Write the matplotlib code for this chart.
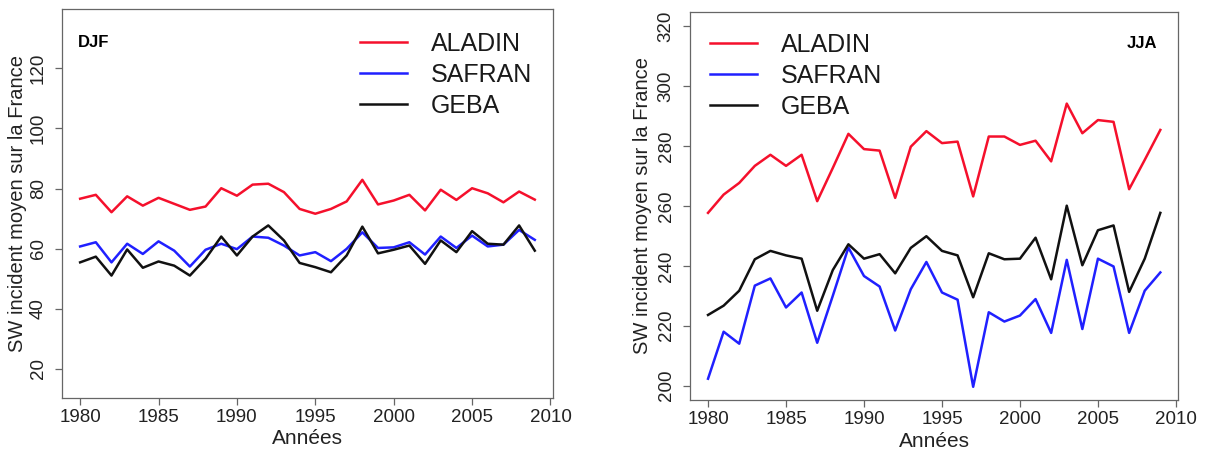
import matplotlib
matplotlib.use("Agg")
import matplotlib.pyplot as plt

plt.rcParams['font.family'] = ['Liberation Sans', 'DejaVu Sans']

years = list(range(1980, 2010))

# DJF (hiver)
djf_aladin = [76.6, 77.9, 72.1, 77.4, 74.3, 76.9, 74.9, 72.9, 74.0, 80.1,
              77.6, 81.3, 81.6, 78.8, 73.2, 71.6, 73.2, 75.7, 82.9, 74.7,
              76.0, 77.9, 72.7, 79.6, 76.2, 80.1, 78.4, 75.4, 79.0, 76.3]
djf_safran = [60.7, 62.1, 55.4, 61.6, 58.2, 62.4, 59.3, 54.0, 59.6, 61.6,
              59.8, 64.0, 63.6, 61.0, 57.7, 58.8, 55.8, 59.9, 65.4, 60.2,
              60.4, 62.1, 58.0, 64.0, 60.2, 64.3, 60.7, 61.3, 66.2, 62.9]
djf_geba = [55.4, 57.3, 51.0, 59.7, 53.6, 55.7, 54.3, 51.0, 56.6, 64.0,
            57.7, 64.0, 67.7, 62.7, 55.2, 53.8, 52.1, 57.7, 67.3, 58.4,
            59.6, 61.0, 54.9, 62.7, 58.8, 65.8, 61.6, 61.3, 67.7, 59.3]

# JJA (ete)
jja_aladin = [257.7, 263.8, 267.7, 273.4, 277.1, 273.4, 277.1, 261.6, 272.7, 284.1,
              279.0, 278.5, 262.7, 279.8, 285.0, 281.0, 281.5, 263.2, 283.2, 283.2,
              280.4, 281.8, 274.9, 294.2, 284.3, 288.7, 288.1, 265.6, 275.4, 285.4]
jja_safran = [202.3, 218.0, 214.0, 233.4, 235.8, 226.1, 231.1, 214.3, 230.0, 246.1,
              236.6, 233.1, 218.4, 232.2, 241.3, 231.1, 228.7, 199.6, 224.5, 221.4,
              223.4, 228.9, 217.6, 242.0, 218.9, 242.4, 239.8, 217.6, 231.7, 237.8]
jja_geba = [223.6, 226.7, 231.7, 242.2, 245.0, 243.5, 242.4, 225.0, 238.6, 247.2,
            242.4, 243.9, 237.5, 246.0, 249.9, 245.0, 243.5, 229.5, 244.2, 242.2,
            242.4, 249.4, 235.5, 260.1, 240.2, 251.9, 253.5, 231.3, 242.4, 257.7]

noms = ['ALADIN', 'SAFRAN', 'GEBA']
couleurs = ['#f5102c', '#2020ff', '#111111']

fig = plt.figure(figsize=(12.1, 4.54), dpi=100)
ax1 = fig.add_axes([0.0512, 0.1233, 0.4058, 0.8568])
ax2 = fig.add_axes([0.5702, 0.1190, 0.4037, 0.8546])


def style_axe(ax, ylim, yticks, leg_xy, ylab_x, xlab_y):
    ax.set_xlim(1978.84, 2010.16)
    ax.set_ylim(*ylim)
    ax.set_xticks(range(1980, 2011, 5))
    ax.set_yticks(yticks)
    for s in ax.spines.values():
        s.set_color('#666666')
        s.set_linewidth(0.9)
    ax.tick_params(length=5, width=0.9, color='#666666', labelsize=13.5,
                   labelcolor='#222222')
    ax.tick_params(axis='x', pad=3)
    ax.tick_params(axis='y', pad=6, labelrotation=90)
    for lab in ax.get_yticklabels():
        lab.set_va('center')
    ax.set_xlabel('Années', fontsize=15, color='#222222')
    ax.set_ylabel('SW incident moyen sur la France', fontsize=14.5, color='#222222')
    ax.yaxis.set_label_coords(ylab_x, 0.5)
    ax.xaxis.set_label_coords(0.5, xlab_y)
    ax.xaxis.label.set_va('center')
    ax.yaxis.label.set_va('center')
    leg = ax.legend(loc='upper left', bbox_to_anchor=leg_xy, frameon=False,
                    fontsize=18, handlelength=1.9, handletextpad=0.95,
                    labelspacing=0.28, borderpad=0, borderaxespad=0)
    for t in leg.get_texts():
        t.set_color('#1a1a1a')


for serie, nom, c in zip([djf_aladin, djf_safran, djf_geba], noms, couleurs):
    ax1.plot(years, serie, color=c, lw=1.8, label=nom)
style_axe(ax1, (10.2, 139.8), range(20, 121, 20), (0.607, 0.942), -0.090, -0.103)
ax1.text(0.033, 0.915, 'DJF', transform=ax1.transAxes, fontsize=12,
         fontweight='bold', va='center', ha='left')

for serie, nom, c in zip([jja_aladin, jja_safran, jja_geba], noms, couleurs):
    ax2.plot(years, serie, color=c, lw=1.8, label=nom)
style_axe(ax2, (195.2, 324.8), range(200, 321, 20), (0.041, 0.947), -0.097, -0.106)
ax2.text(0.956, 0.920, 'JJA', transform=ax2.transAxes, fontsize=12,
         fontweight='bold', va='center', ha='right')

fig.savefig('out.png', dpi=100)
